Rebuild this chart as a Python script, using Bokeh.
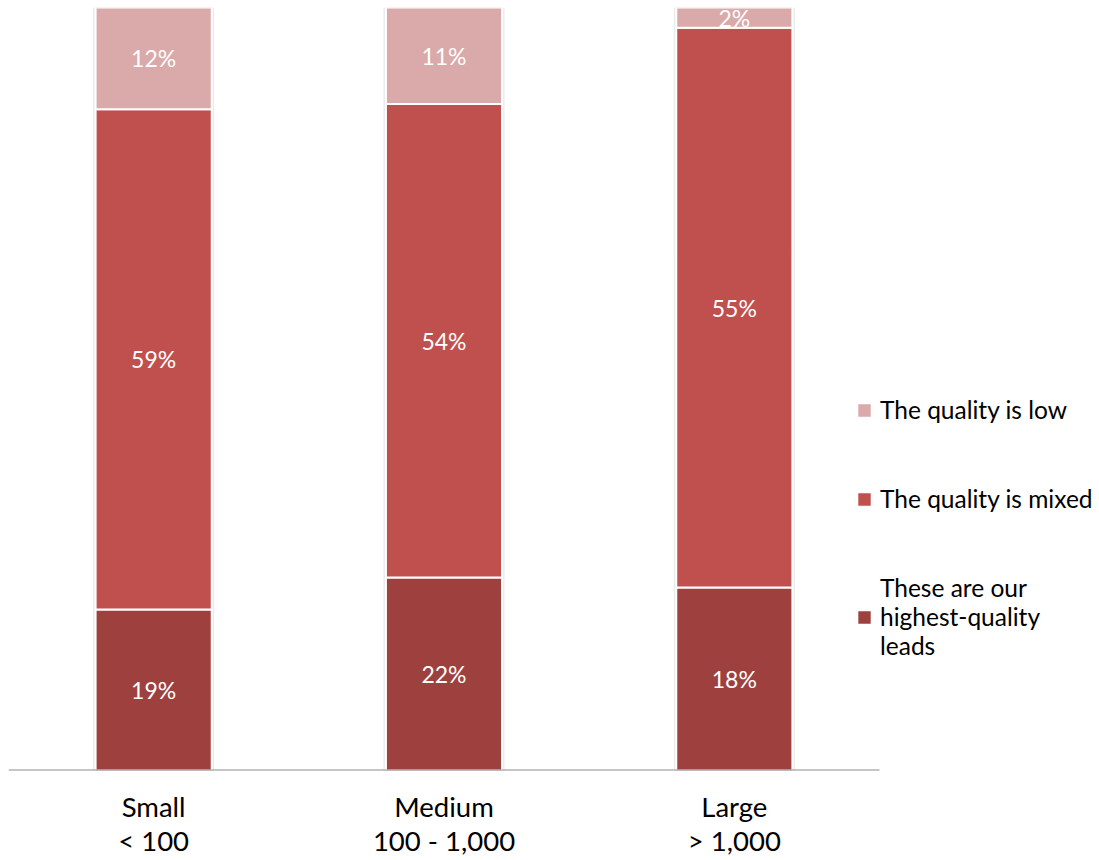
from bokeh.plotting import figure
from bokeh.models import ColumnDataSource, Range1d, Legend, LegendItem, LabelSet, FixedTicker
from bokeh.core.properties import value
from bokeh.embed import file_html
from bokeh.resources import INLINE

categories = ["Small\n< 100", "Medium\n100 - 1,000", "Large\n> 1,000"]
highest = [19, 22, 18]
mixed = [59, 54, 55]
low = [12, 11, 2]

series_names = ["These are our\nhighest-quality\nleads", "The quality is mixed", "The quality is low"]
colors = ["#9E413E", "#C0504D", "#DAA9A9"]

FONT = "Lato"

W, H = 1099, 860
LEFT, TOP = 8, 7
FRAME_H = 764
PX_PER_CAT = 290.33

xs = [i + 0.5 for i in range(len(categories))]
totals = [a + b + c for a, b, c in zip(highest, mixed, low)]
f_high = [a / t for a, t in zip(highest, totals)]
f_mixed = [b / t for b, t in zip(mixed, totals)]
f_low = [c / t for c, t in zip(low, totals)]

p = figure(x_range=Range1d(0, (W - LEFT) / PX_PER_CAT), y_range=Range1d(0, 1), width=W, height=H,
           output_backend="svg", toolbar_location=None,
           min_border_left=LEFT, min_border_right=0, min_border_top=TOP,
           min_border_bottom=H - TOP - FRAME_H)

# soft shadow around bars
p.vbar(x=xs, bottom=0, top=1.004, width=0.4 + 5 / PX_PER_CAT, fill_color="#000000",
       fill_alpha=0.08, line_color=None)

bottoms = [0.0] * 3
renderers = []
for name, vals, raw, col in zip(series_names, [f_high, f_mixed, f_low], [highest, mixed, low], colors):
    tops = [b + v for b, v in zip(bottoms, vals)]
    src = ColumnDataSource(dict(x=xs, bottom=bottoms, top=tops,
                                mid=[(b + t) / 2 for b, t in zip(bottoms, tops)],
                                label=[f"{r}%" for r in raw]))
    r = p.vbar(x="x", bottom="bottom", top="top", width=0.4, source=src,
               fill_color=col, line_color="white", line_width=2)
    renderers.append(r)
    p.add_layout(LabelSet(x="x", y="mid", text="label", source=src,
                          text_color="white", text_font=value(FONT), text_font_size="23px",
                          text_align="center", text_baseline="middle"))
    bottoms = tops

# baseline (category axis line)
p.segment(x0=[0], y0=[0], x1=[len(categories)], y1=[0], line_color="#8C8C8C", line_width=2)

legend = Legend(items=[LegendItem(label=series_names[2], renderers=[renderers[2]]),
                       LegendItem(label=series_names[1], renderers=[renderers[1]]),
                       LegendItem(label=series_names[0], renderers=[renderers[0]])],
                location=(847, 110), glyph_width=18, glyph_height=18, label_standoff=7,
                label_text_font=FONT, label_text_font_size="24.5px", label_height=24,
                label_text_color="black", label_text_line_height=1.2,
                spacing=60, padding=0, margin=0, border_line_alpha=0, background_fill_alpha=0)
p.add_layout(legend, "center")

p.yaxis.visible = False
p.xgrid.visible = False
p.ygrid.visible = False
p.outline_line_color = None
p.xaxis.ticker = FixedTicker(ticks=xs)
p.xaxis.major_label_overrides = {x: c for x, c in zip(xs, categories)}
p.xaxis.axis_line_color = None
p.xaxis.major_tick_line_color = None
p.xaxis.minor_tick_line_color = None
p.xaxis.major_label_text_font = FONT
p.xaxis.major_label_text_font_size = "27.5px"
p.xaxis.major_label_text_line_height = 1.06
p.xaxis.major_label_text_color = "black"
p.xaxis.major_label_standoff = 13

open("out.html", "w").write(file_html(p, INLINE))
